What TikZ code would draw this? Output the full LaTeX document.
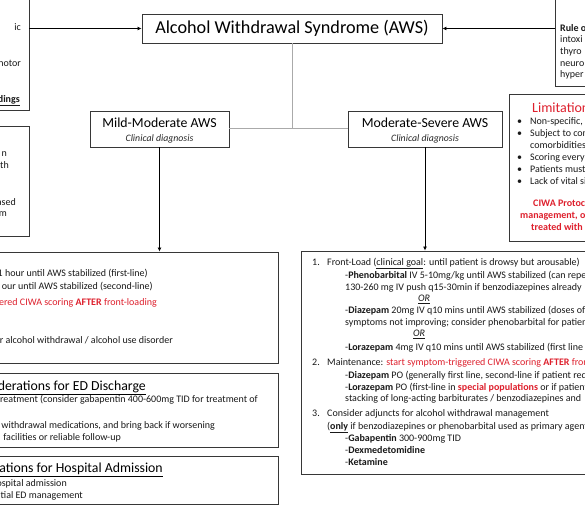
\documentclass[tikz,border=0pt]{standalone}
\usepackage{fontspec}
\setmainfont{Carlito}
\usetikzlibrary{arrows.meta}
\definecolor{awsred}{RGB}{222,32,45}
\definecolor{edge}{RGB}{55,55,55}
\definecolor{link}{RGB}{170,170,170}
\tikzset{
  box/.style={draw=edge, line width=0.9pt, fill=white, inner sep=0pt, rectangle},
  body/.style={font=\fontsize{10}{12}\selectfont, inner sep=0pt, text=black!90},
  bw/.style={body, anchor=base west},
  be/.style={body, anchor=base east},
  headw/.style={font=\fontsize{14}{15}\selectfont, inner sep=0pt, anchor=base west},
  heade/.style={font=\fontsize{13.8}{15}\selectfont, inner sep=0pt, anchor=base east},
  sub/.style={font=\fontsize{9.8}{11}\selectfont\itshape, inner sep=0pt, anchor=base, text=black!85},
  redb/.style={bw, text=awsred, font=\fontsize{10}{12}\selectfont\bfseries},
  arr/.style={draw=black, line width=0.8pt, -{Latex[length=4pt,width=4pt]}},
  graylink/.style={draw=link, line width=1pt},
}
\begin{document}
\begin{tikzpicture}[x=1pt,y=-1pt]
\useasboundingbox (0,0) rectangle (585,505);
\fill[white] (0,0) rectangle (585,505);
\clip (0,0) rectangle (585,505);

% boxes
\node[box, minimum width=300pt, minimum height=29pt,
      font=\fontsize{18.2}{20}\selectfont] (title) at (292,28.5) {Alcohol Withdrawal Syndrome (AWS)};
\node[box, minimum width=149pt, minimum height=130pt] (tl) at (-45.5,45) {};
\node[box, minimum width=149pt, minimum height=110pt] (ml) at (-45.5,181) {};
\node[box, minimum width=165pt, minimum height=106pt] (tr) at (637.5,33) {};
\node[box, minimum width=171pt, minimum height=147pt] (lim) at (594.5,167.5) {};
\node[box, minimum width=139pt, minimum height=36pt] (mild) at (159.5,129) {};
\node[box, minimum width=154pt, minimum height=36pt] (mod) at (425,129) {};
\node[box, minimum width=428pt, minimum height=111pt] (lt) at (64,307.5) {};
\node[box, minimum width=428pt, minimum height=74pt] (ed) at (64,410) {};
\node[box, minimum width=428pt, minimum height=48pt] (hosp) at (64,480) {};
\node[box, minimum width=419pt, minimum height=223pt] (rt) at (510.5,362.5) {};

% connectors
\draw[arr] (tl.east |- title.west) -- (title.west);
\draw[arr] (tr.west |- title.east) -- (title.east);
\draw[graylink] (title.south) -- (title.south |- mild.east);
\draw[graylink] (mild.east) -- (mod.west);
\draw[arr] (mild.south) -- (mild.south |- lt.north);
\draw[arr] (mod.south) -- (mod.south |- rt.north);

% mild / moderate labels
\node[font=\fontsize{13.8}{15}\selectfont, inner sep=0pt, anchor=base] (mildt) at (159.5,128) {Mild-Moderate AWS};
\node[sub] (milds) at (159.5,141.5) {Clinical diagnosis};
\node[font=\fontsize{13.8}{15}\selectfont, inner sep=0pt, anchor=base] (modt) at (425,128) {Moderate-Severe AWS};
\node[sub] (mods) at (425,141.5) {Clinical diagnosis};

% top-left box
\node[be] (a1) at (21,30.5) {ic};
\node[be] (a2) at (21,66.5) {notor};
\node[be] (a3) at (20,102.5) {\textbf{\underline{dings}}};
% middle-left box
\node[be] (b1) at (7,156.5) {n};
\node[be] (b2) at (9,168.5) {th};
\node[be] (b3) at (16,205.5) {ased};
\node[be] (b4) at (7,216.5) {m};

% left treatment box
\node[be] (c1) at (148,276.5) {1 hour until AWS stabilized (first-line)};
\node[be] (c2) at (153,289.5) {our until AWS stabilized (second-line)};
\node[be, text=awsred] (c3) at (157,305.5) {ered CIWA scoring \textbf{AFTER} front-loading};
\node[be] (c4) at (173,343.5) {r alcohol withdrawal / alcohol use disorder};

% ED discharge box
\node[heade] (d0) at (146,390.5) {\underline{derations for ED Discharge}};
\node[be] (d1) at (258,402.5) {reatment (consider gabapentin 400-600mg TID for treatment of};
\node[be] (d2) at (215,428.5) {withdrawal medications, and bring back if worsening};
\node[be] (d3) at (121,440.5) {facilities or reliable follow-up};

% hospital admission box
\node[heade] (e0) at (163,472.5) {\underline{ations for Hospital Admission}};
\node[be] (e1) at (67,486.5) {ospital admission};
\node[be] (e2) at (83,498.5) {itial ED management};

% right treatment box
\node[bw] (n1) at (312,265.5) {1.};
\node[bw] (f1) at (327,265.5) {Front-Load (\underline{clinical goal}: until patient is drowsy but arousable)};
\node[bw] (f2) at (345,278.5) {-\textbf{Phenobarbital} IV 5-10mg/kg until AWS stabilized (can repeat};
\node[bw] (f3) at (345,290) {130-260 mg IV push q15-30min if benzodiazepines already};
\node[bw] (f4) at (418,301.5) {\itshape\underline{OR}};
\node[bw] (f5) at (345,313.5) {-\textbf{Diazepam} 20mg IV q10 mins until AWS stabilized (doses of};
\node[bw] (f6) at (345,325) {symptoms not improving; consider phenobarbital for patients};
\node[bw] (f7) at (413,336.5) {\itshape\underline{OR}};
\node[bw] (f8) at (345,350.5) {-\textbf{Lorazepam} 4mg IV q10 mins until AWS stabilized (first line};
\node[bw] (n2) at (312,365.5) {2.};
\node[bw] (g1) at (327,365.5) {Maintenance: \textcolor{awsred}{start symptom-triggered CIWA scoring \textbf{AFTER} front}};
\node[bw] (g2) at (345,378.5) {-\textbf{Diazepam} PO (generally first line, second-line if patient requires};
\node[bw] (g3) at (345,390) {-\textbf{Lorazepam} PO (first-line in \textcolor{awsred}{\textbf{special populations}} or if patients};
\node[bw] (g4) at (345,401.5) {stacking of long-acting barbiturates / benzodiazepines and};
\node[bw] (n3) at (312,416.5) {3.};
\node[bw] (h1) at (327,416.5) {Consider adjuncts for alcohol withdrawal management};
\node[bw] (h2) at (327,429.5) {(\textbf{\underline{only}} if benzodiazepines or phenobarbital used as primary agent};
\node[bw] (h3) at (345,441.5) {-\textbf{Gabapentin} 300-900mg TID};
\node[bw] (h4) at (345,453.5) {-\textbf{Dexmedetomidine}};
\node[bw] (h5) at (345,465.5) {-\textbf{Ketamine}};

% top-right box
\node[bw] (r1) at (560,31.5) {\textbf{Rule o}};
\node[bw] (r2) at (560,43) {intoxi};
\node[bw] (r3) at (560,55) {thyro};
\node[bw] (r4) at (560,66.5) {neuro};
\node[bw] (r5) at (560,78) {hyper};

% limitations box
\node[headw, text=awsred] (l0) at (532,113) {Limitations};
\node[bw] (lb1) at (517,124.5) {•};
\node[bw] (l1) at (530,124.5) {Non-specific, };
\node[bw] (lb2) at (517,136.5) {•};
\node[bw] (l2) at (530,136.5) {Subject to con};
\node[bw] (l3) at (530,148.5) {comorbidities};
\node[bw] (lb4) at (517,160.5) {•};
\node[bw] (l4) at (530,160.5) {Scoring every};
\node[bw] (lb5) at (517,172.5) {•};
\node[bw] (l5) at (530,172.5) {Patients must};
\node[bw] (lb6) at (517,184.5) {•};
\node[bw] (l6) at (530,184.5) {Lack of vital sig};
\node[redb] (m1) at (533,206) {CIWA Protocol};
\node[redb] (m2) at (520,218) {management, or};
\node[redb] (m3) at (531,230) {treated with};
\end{tikzpicture}
\end{document}
